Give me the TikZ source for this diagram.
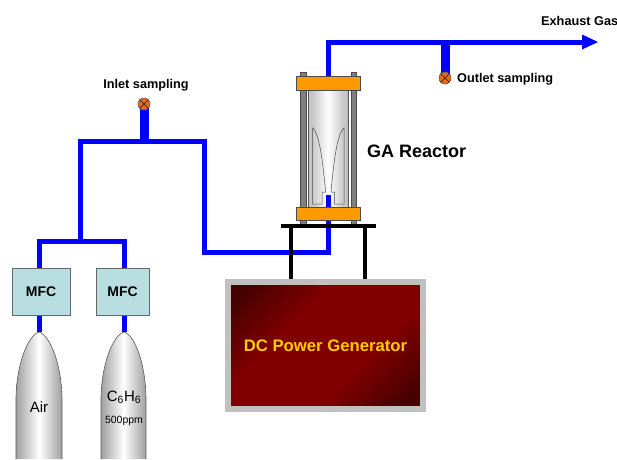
\documentclass[tikz,border=0pt]{standalone}
\usepackage{fontspec}
\setmainfont{Liberation Sans}
\usetikzlibrary{backgrounds}
\definecolor{pipeblue}{RGB}{0,0,255}
\definecolor{flangeorange}{RGB}{255,153,0}
\definecolor{mfcblue}{RGB}{185,222,226}
\definecolor{valveorange}{RGB}{235,105,25}
\definecolor{genframe}{RGB}{192,192,192}
\definecolor{genyellow}{RGB}{255,204,0}
\definecolor{gendark}{RGB}{70,0,0}
\definecolor{genred}{RGB}{128,0,0}
\pgfdeclarehorizontalshading{genshade}{100bp}{
  color(0bp)=(gendark);
  color(20bp)=(gendark);
  color(38bp)=(genred);
  color(62bp)=(genred);
  color(80bp)=(gendark);
  color(100bp)=(gendark)}
\tikzset{
  pipe/.style={draw=pipeblue, line width=5pt},
  fatpipe/.style={draw=pipeblue, line width=9pt},
  leg/.style={draw=black, line width=4pt},
  mfcbox/.style={draw=gray!80!black, fill=mfcblue, line width=0.7pt, minimum height=47pt, inner sep=0pt,
    font=\fontsize{14}{16}\selectfont\bfseries},
  flange/.style={draw=gray!60!black, fill=flangeorange, line width=0.6pt, minimum width=64pt, minimum height=13.5pt, inner sep=0pt},
  rod/.style={draw=black!70, fill=gray, line width=0.6pt},
  valve/.style={circle, draw=gray!70!black, fill=valveorange, line width=0.6pt, minimum size=12pt, inner sep=0pt},
  cross/.style={draw=gray!20!black, line width=0.4pt},
  tank/.style={draw=gray!70!black, line width=0.6pt, left color=gray!75, right color=gray!75, middle color=white},
  glass/.style={draw=gray!70!black, line width=0.6pt, left color=gray!55, right color=gray!55, middle color=white},
  nozzleline/.style={draw=gray!60!black, line width=0.5pt},
  label/.style={font=\fontsize{12.7}{15}\selectfont\bfseries, inner sep=0pt},
}
\begin{document}
\begin{tikzpicture}[x=1pt,y=-1pt]
  \useasboundingbox (0,0) rectangle (617,459);
  \coordinate (airtip) at (39,332);
  \coordinate (benzenetip) at (124,332);
  \coordinate (splitlow) at (80,241);
  \coordinate (splithigh) at (144,141);
  \coordinate (gasexit) at (598,42);
  \coordinate (arrowbase) at (582,42);
  \coordinate (nozzle) at (328,195);
  \coordinate (branch) at (445,42);
  \coordinate (tableleft) at (291,226);
  \coordinate (tableright) at (365,226);

  \node[flange] (flangetop) at (328,83.5) {};
  \node[flange] (flangebottom) at (328,214) {};
  \node[valve] (samplein) at (144,104) {};
  \node[valve] (sampleout) at (445,78) {};
  \node[mfcbox, minimum width=58pt] (mfcair) at (41,291.5) {MFC};
  \node[mfcbox, minimum width=53pt] (mfcbenzene) at (122.5,291.5) {MFC};
  \draw[cross] (samplein.45) -- (samplein.225) (samplein.135) -- (samplein.315);
  \draw[cross] (sampleout.45) -- (sampleout.225) (sampleout.135) -- (sampleout.315);

  % reactor body and pipes go underneath
  \begin{pgfonlayer}{background}
    \draw[rod] (300,72) rectangle (306,225);
    \draw[rod] (351,72) rectangle (356,225);
    \draw[glass] (308,90) rectangle (348,207);
    \draw[gray!40, line width=0.5pt] (310.5,90) -- (310.5,207) (345.5,90) -- (345.5,207);
    \draw[nozzleline] (312.7,127.7) -- (312.7,204) -- (322,204) -- (322,192) -- (325.7,192)
      .. controls (323,165) and (320,135) .. (312.7,127.7);
    \draw[nozzleline] (344,127.7) -- (344,204) -- (334.5,204) -- (334.5,192) -- (331,192)
      .. controls (333.5,165) and (336.5,135) .. (344,127.7);
    \draw[pipe] (airtip) -- (airtip |- mfcair.south);
    \draw[pipe] (benzenetip) -- (benzenetip |- mfcbenzene.south);
    \draw[pipe] (airtip |- mfcair.north) -- (airtip |- splitlow) -- (benzenetip |- splitlow) -- (benzenetip |- mfcbenzene.north);
    \draw[pipe] (splitlow) -- (splitlow |- splithigh) -- (204,141) -- (204,252) -- (328,252) -- (nozzle);
    \draw[fatpipe] (samplein.center) -- (splithigh);
    \draw[pipe] (flangetop.north) -- (328,42) -- (branch) -- (arrowbase);
    \fill[pipeblue] (582,34.5) -- (gasexit) -- (582,49.5) -- cycle;
    \draw[fatpipe] (branch) -- (sampleout.center);
  \end{pgfonlayer}

  % table and generator
  \node[draw=genframe, line width=6pt, minimum width=195pt, minimum height=127pt, inner sep=0pt, shading=genshade, shading angle=-45,
    text=genyellow, font=\fontsize{16.7}{19}\selectfont\bfseries] (generator) at (325.5,345.5) {DC Power Generator};
  \draw[leg] (281,226) -- (376,226);
  \draw[leg] (tableleft) -- (tableleft |- generator.north);
  \draw[leg] (tableright) -- (tableright |- generator.north);

  % gas bottles
  \draw[tank] (16,459) -- (16,400) .. controls (16,365) and (28,335) .. (airtip)
    .. controls (50,335) and (62,365) .. (62,400) -- (62,459);
  \draw[tank] (101,459) -- (101,400) .. controls (101,365) and (113,335) .. (benzenetip)
    .. controls (135,335) and (146,365) .. (146,400) -- (146,459);
  \node[font=\fontsize{15}{17}\selectfont, inner sep=0pt] (airtext) at (39,407) {Air};
  \node[font=\fontsize{15}{17}\selectfont, inner sep=0pt] (benzenetext) at (124,397) {C$_{\mathrm{6}}$H$_{\mathrm{6}}$};
  \node[font=\fontsize{10.5}{12}\selectfont, inner sep=0pt] (ppmtext) at (124,421) {500ppm};

  % labels
  \node[label] (inlettext) at (146,85) {Inlet sampling};
  \node[label, anchor=west] (outlettext) at (457,79) {Outlet sampling};
  \node[label, anchor=west] (exhausttext) at (541,21) {Exhaust Gas};
  \node[font=\fontsize{18}{20}\selectfont\bfseries, inner sep=0pt, anchor=west] (reactortext) at (367,151) {GA Reactor};
\end{tikzpicture}
\end{document}
